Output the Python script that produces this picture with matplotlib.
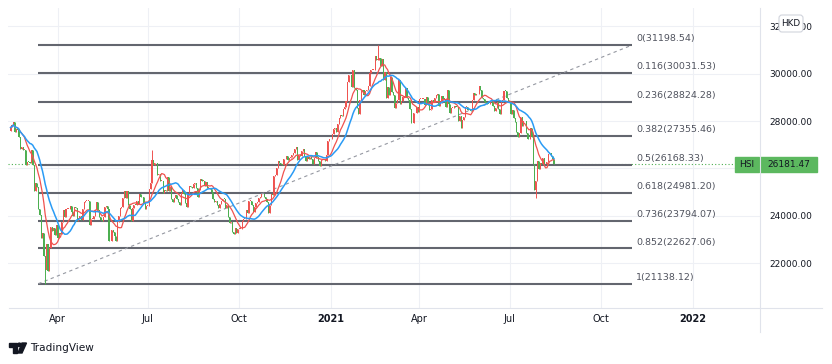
import numpy as np
import pandas as pd
import matplotlib
matplotlib.use('Agg')
import matplotlib.pyplot as plt
import matplotlib.transforms as mtransforms
from matplotlib.patches import Rectangle, Polygon, Circle, FancyBboxPatch
from matplotlib.lines import Line2D

# HSI daily closes, 2020-02-13 .. 2021-08-16 (one value per weekday)
closes = [
    # Feb 2020
    27730, 27816, 27960, 27530, 27656, 27609, 27309, 26820, 26893, 26778, 26778, 26130,
    # Mar 2020
    26292, 26284, 26222, 26767, 26146, 25040, 25392, 25232, 24309, 24033, 23064, 23264,
    22291, 21709, 22805, 21696, 22663, 23527, 23352, 23484, 23175, 23603,
    # Apr 2020
    23085, 23280, 23236, 23749, 24254, 23970, 24300, 24300, 24300, 24435, 24145, 24006,
    24380, 24330, 23794, 23893, 23977, 23832, 24280, 24576, 24643, 24643,
    # May 2020
    24643, 23614, 23868, 23868, 23980, 24230, 24602, 24245, 23950, 23830, 23797, 23934,
    24388, 24400, 24280, 22930, 22952, 23385, 23301, 23132, 22961,
    # Jun 2020
    23733, 23995, 24325, 24366, 24770, 25057, 24776, 25049, 24480, 24301, 23777, 24344,
    24481, 24464, 24644, 24511, 24907, 24782, 24782, 24549, 24301, 24427,
    # Jul 2020
    24427, 25124, 25373, 26339, 26130, 26217, 26211, 25727, 25772, 25477, 25482, 24971,
    25089, 25058, 25636, 25058, 25263, 24705, 24603, 24772, 24884, 24710, 24595,
    # Aug 2020
    24458, 24947, 25102, 24930, 24532, 24377, 24890, 25244, 25230, 25183, 25347, 25368,
    25179, 24791, 25113, 25552, 25486, 25491, 25282, 25422, 25177,
    # Sep 2020
    25184, 25120, 25007, 24695, 24589, 24624, 24468, 24313, 24503, 24640, 24732, 24725,
    24341, 24455, 23950, 23716, 23742, 23311, 23235, 23476, 23275, 23459,
    # Oct 2020
    23459, 23459, 23767, 23880, 23880, 24242, 24119, 24649, 24649, 24442, 24158, 24386,
    24542, 24570, 24754, 24786, 24918, 24918, 24787, 24709, 24586, 24107,
    # Nov 2020
    24460, 24939, 24886, 25696, 25712, 26016, 26301, 26227, 26170, 26157, 26381, 26415,
    26544, 26357, 26451, 26486, 26588, 26669, 26819, 26894, 26341,
    # Dec 2020
    26568, 26532, 26728, 26836, 26507, 26304, 26503, 26410, 26506, 26389, 26207, 26460,
    26678, 26498, 26306, 26119, 26343, 26387, 26387, 26314, 26568, 27147, 27231,
    # Jan 2021
    27231, 27473, 27649, 27693, 27549, 27878, 28139, 28277, 28236, 28496, 28574, 28862,
    29642, 29962, 29927, 29448, 30159, 29391, 29297, 28551, 28284,
    # Feb 2021
    28893, 29249, 29307, 29114, 29289, 29320, 29476, 30038, 30173, 30173, 30173, 30746,
    30584, 30596, 30645, 30319, 30633, 29718, 30075, 28980,
    # Mar 2021
    29452, 29095, 29880, 29236, 29098, 28540, 28773, 28907, 29718, 28740, 28834, 29027,
    29034, 29405, 28990, 28885, 28497, 27919, 27900, 28336, 28338, 28577, 28378,
    # Apr 2021
    28939, 28939, 28939, 28939, 28674, 29009, 28699, 28453, 28497, 28900, 28793, 28970,
    29106, 29135, 28622, 28755, 29078, 28952, 28942, 28574, 29303, 28725,
    # May 2021
    28357, 28557, 28557, 28637, 28610, 28595, 28014, 28231, 27719, 28027, 28173, 28594,
    28594, 28450, 28458, 28412, 28911, 29166, 29113, 29124, 29152,
    # Jun 2021
    29468, 29297, 28966, 28918, 28787, 28781, 28742, 28739, 28842, 28842, 28638, 28437,
    28559, 28801, 28490, 28309, 28817, 28882, 29288, 29268, 28994, 28828,
    # Jul 2021
    28828, 28310, 28489, 28143, 27960, 27528, 27344, 27515, 28172, 27787, 27996, 28004,
    27489, 27259, 27224, 27705, 27321, 26192, 25086, 25473, 26316, 25961,
    # Aug 2021
    26235, 26194, 26426, 26205, 26179, 26283, 26605, 26660, 26517, 26391, 26181.47,
]
first_open = 27600

# intraday extremes that stick out of the bodies
spike_dates = ['2020-03-19', '2020-07-06', '2021-02-18', '2021-07-28']
spike_prices = [21138.12, 26782, 31198.54, 24748]

# fibonacci retracement
fib_ratios = [0, 0.116, 0.236, 0.382, 0.5, 0.618, 0.736, 0.852, 1]
fib_high = 31198.54
fib_low = 21138.12
fib_start = '2020-03-12'
fib_end = '2021-11-02'

tick_dates = ['2020-04-01', '2020-07-01', '2020-10-01', '2021-01-01',
              '2021-04-01', '2021-07-01', '2021-10-01', '2022-01-01']
tick_labels = ['Apr', 'Jul', 'Oct', '2021', 'Apr', 'Jul', 'Oct', '2022']

UP = '#ef5350'
DOWN = '#4caf50'
FIB = '#63666f'
TXT = '#131722'

W, H = 832, 364
fig = plt.figure(figsize=(W / 100, H / 100), dpi=100)
ax = fig.add_axes([8 / W, 1 - 308 / H, 752 / W, 300 / H])
px = mtransforms.Affine2D().scale(1 / W, -1 / H).translate(0, 1) + fig.transFigure

axis_days = pd.bdate_range('2020-02-13', '2022-03-31')
days = axis_days[:len(closes)]
close = np.array(closes, dtype=float)
opn = np.r_[first_open, close[:-1]]
high = np.maximum(opn, close)
low = np.minimum(opn, close)
for d, p in zip(spike_dates, spike_prices):
    i = days.get_loc(pd.Timestamp(d))
    high[i] = max(high[i], p)
    low[i] = min(low[i], p)
idx = np.arange(len(close))
colors = np.where(close >= opn, UP, DOWN)

# grid and price line
ax.grid(color='#eef0f5', lw=0.8, zorder=0)
ax.axhline(close[-1], color=DOWN, lw=0.8, ls=(0, (1, 2)), zorder=1)

# fib levels
i0 = axis_days.searchsorted(pd.Timestamp(fib_start))
i1 = axis_days.searchsorted(pd.Timestamp(fib_end))
for r in fib_ratios:
    p = fib_high - r * (fib_high - fib_low)
    ax.hlines(p, i0, i1, color=FIB, lw=1.5, zorder=2)
    ax.annotate(f'{r:g}({p:.2f})', xy=(i1, p), xytext=(3.5, 4.6), textcoords='offset points',
                fontsize=6.8, color='#50535e', va='center', ha='left', annotation_clip=False)
ax.plot([i0, i1], [fib_low, fib_high], color='#9598a1', lw=0.8, ls=(0, (3, 3)), zorder=2)

# candles
ax.vlines(idx, low, high, colors=colors, lw=0.7, zorder=3)
ax.bar(idx, np.maximum(np.abs(close - opn), 25), bottom=np.minimum(opn, close),
       width=0.75, color=colors, lw=0, zorder=3)

# moving averages
s = pd.Series(close)
ax.plot(idx, s.rolling(10, min_periods=1).mean(), color='#f0524f', lw=0.9, zorder=4)
ax.plot(idx, s.rolling(20, min_periods=1).mean(), color='#2a9bf5', lw=1.1, zorder=4)

ax.set_xlim(-1.86, 540.7)
ax.set_ylim(20114, 32772)
ax.set_xticks([axis_days.searchsorted(pd.Timestamp(d)) for d in tick_dates])
ax.set_xticklabels(tick_labels)
for lab in ax.get_xticklabels():
    if lab.get_text().isdigit():
        lab.set_fontweight('bold')
ax.set_yticks(range(22000, 34000, 2000))
ax.yaxis.set_major_formatter(lambda v, pos: f'{v:.2f}')
ax.yaxis.tick_right()
ax.tick_params(axis='x', length=0, pad=4, labelsize=7, labelcolor=TXT)
ax.tick_params(axis='y', length=0, pad=6.5, labelsize=6.5, labelcolor=TXT)
for sp in ax.spines.values():
    sp.set_visible(False)
# the 26000 label sits under the last-price badge
fig.canvas.draw()
for lab in ax.get_yticklabels():
    if lab.get_text() == '26000.00':
        lab.set_visible(False)

# pane borders
fig.add_artist(Line2D([9, 822], [308, 308], color='#e0e3eb', lw=0.8, transform=px))
fig.add_artist(Line2D([760, 760], [8, 332], color='#e0e3eb', lw=0.8, transform=px))

# last price labels (x in axes fraction, pane starts at pixel 8 and is 752 wide)
bt = mtransforms.blended_transform_factory(ax.transAxes, ax.transData)
hgt = 15 / 300 * (32772 - 20114)
ax.add_patch(Rectangle(((735 - 8) / 752, close[-1] - hgt / 2), 24 / 752, hgt, transform=bt,
                       color='#5cb85f', clip_on=False, zorder=6))
ax.add_patch(Rectangle(((760 - 8) / 752, close[-1] - hgt / 2), 57 / 752, hgt, transform=bt,
                       color='#5cb85f', clip_on=False, zorder=6))
ax.text((747 - 8) / 752, close[-1], 'HSI', transform=bt, fontsize=6.5, color=TXT,
        ha='center', va='center', clip_on=False, zorder=7)
ax.text((789 - 8) / 752, close[-1], f'{close[-1]:.2f}', transform=bt, fontsize=6.5, color=TXT,
        ha='center', va='center', clip_on=False, zorder=7)

# currency badge
fig.add_artist(FancyBboxPatch((779, 15), 24, 17, boxstyle='round,pad=0,rounding_size=3',
                              fc='white', ec='#d1d4dc', lw=0.8, transform=px))
fig.text(791, 23.5, 'HKD', fontsize=6.3, color=TXT, ha='center', va='center', transform=px)

# TradingView mark
fig.add_artist(Polygon([(9, 343), (17, 343), (17, 353), (13, 353), (13, 346.5), (9, 346.5)],
                       closed=True, color=TXT, transform=px))
fig.add_artist(Circle((19.4, 344.8), 1.7, color=TXT, transform=px))
fig.add_artist(Polygon([(22, 343), (26.5, 343), (22, 353), (18, 353)], closed=True,
                       color=TXT, transform=px))
fig.text(30, 348, 'TradingView', fontsize=7.6, color=TXT, ha='left', va='center', transform=px)

fig.savefig('out.png', dpi=100, facecolor='white')
